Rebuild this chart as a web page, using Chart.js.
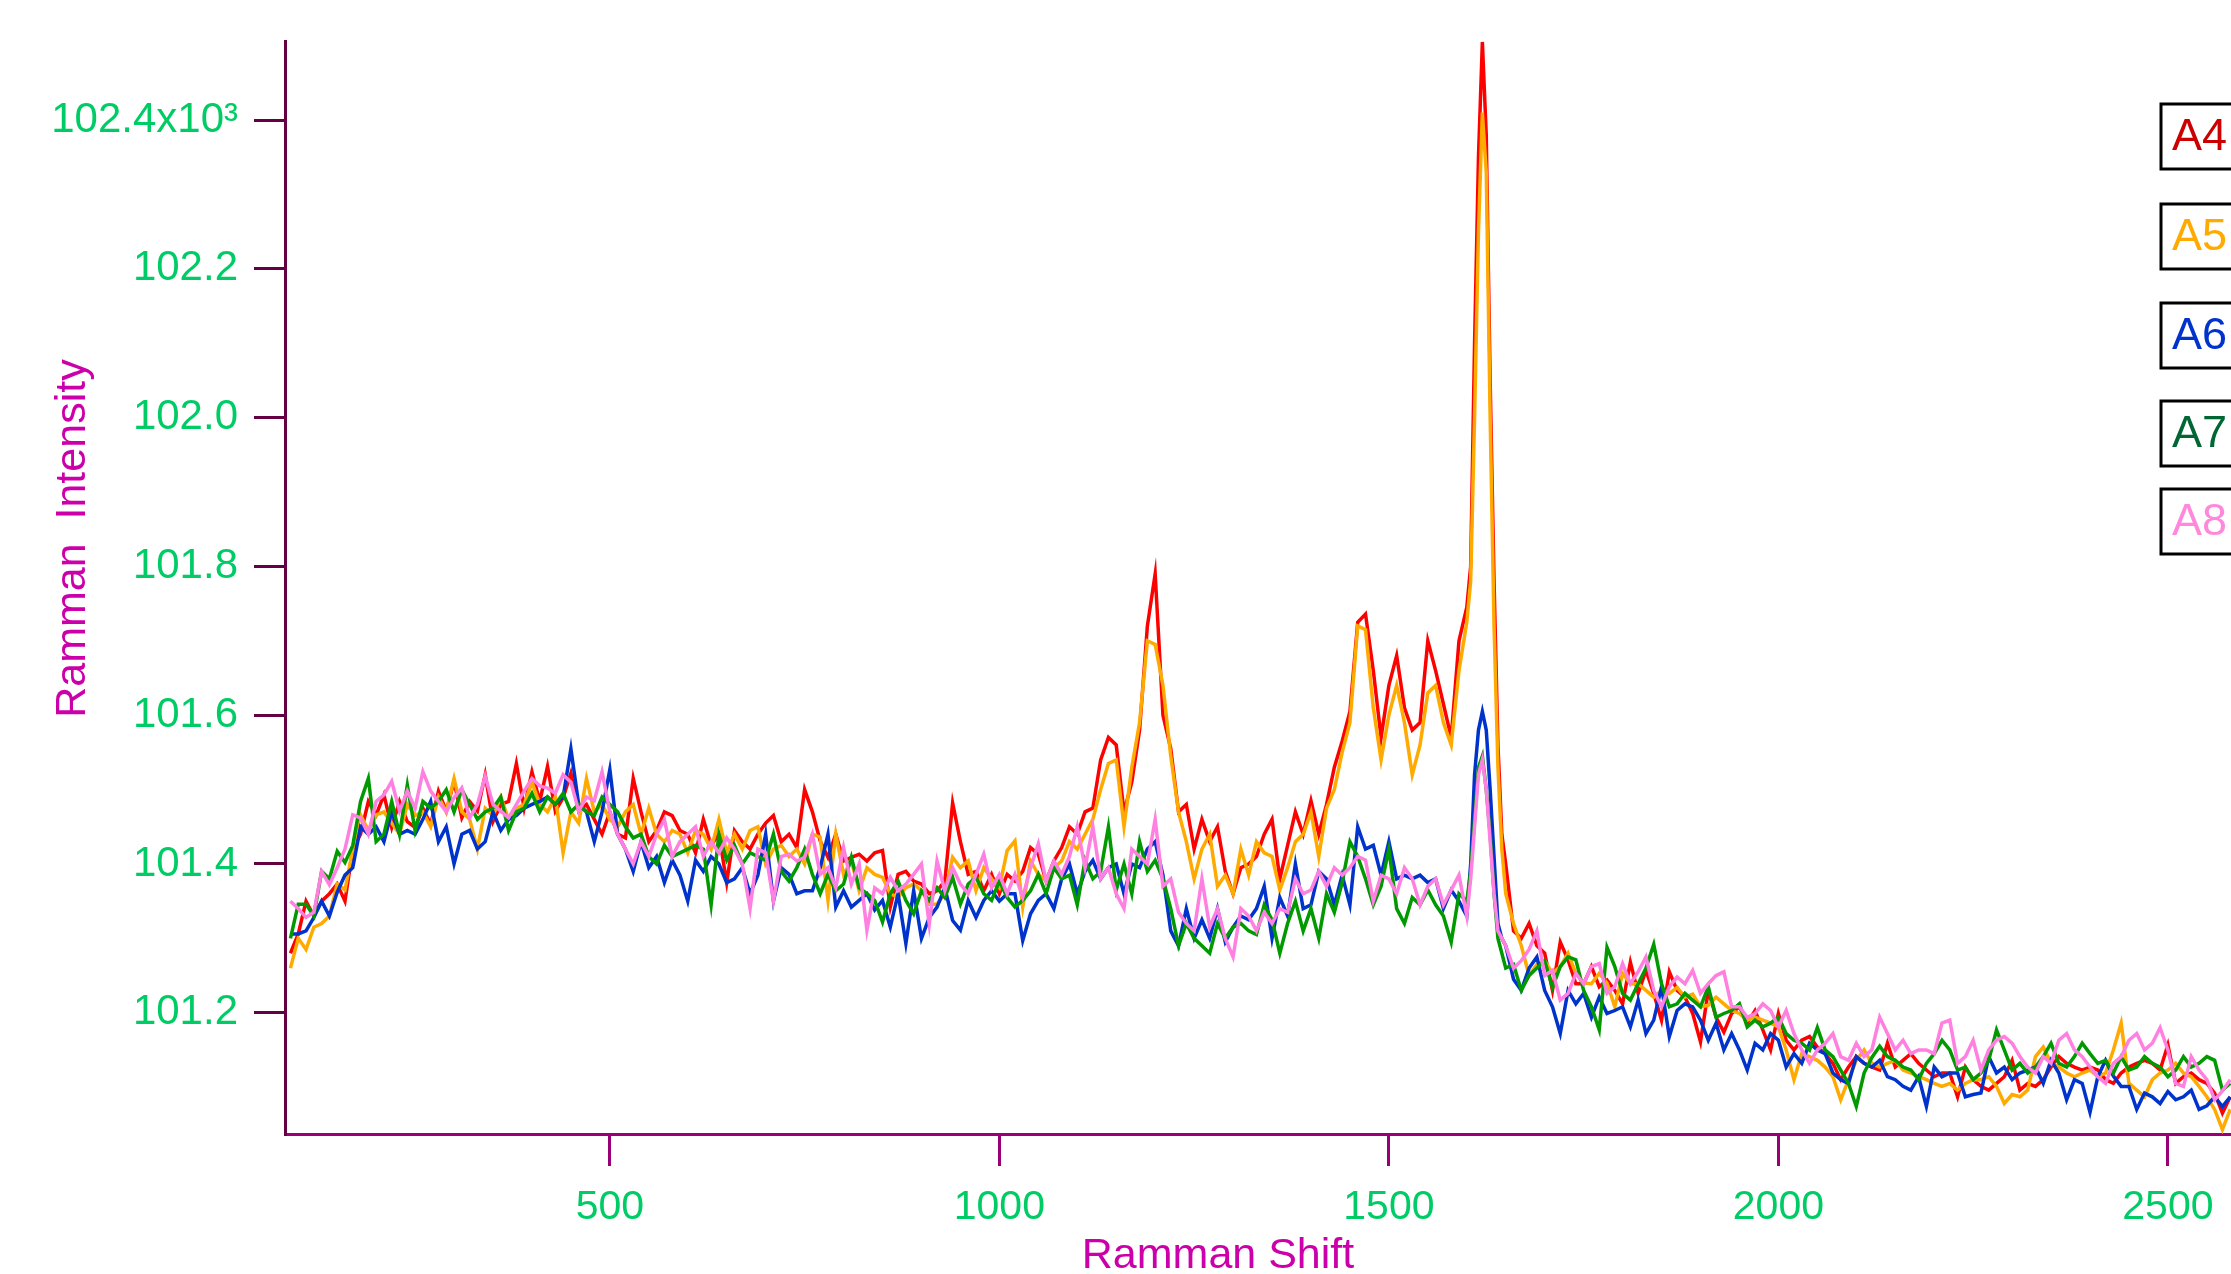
<!DOCTYPE html>
<html>
<head>
<meta charset="utf-8">
<title>Ramman spectra A4-A8</title>
<script src="https://cdn.jsdelivr.net/npm/chart.js@4.4.0/dist/chart.umd.min.js"></script>
<style>
  html, body { margin: 0; padding: 0; background: #ffffff; }
  canvas { display: block; }
</style>
</head>
<body>
<canvas id="chart" width="2231" height="1274"></canvas>
<script>
// Ramman shift (cm-1), shared by every spectrum
const shift = [
  90, 100, 110, 120, 130, 140, 150, 160, 170, 180, 190, 200,
  210, 220, 230, 240, 250, 260, 270, 280, 290, 300, 310, 320, 330, 340, 350,
  360, 370, 380, 390, 400, 410, 420, 430, 440, 450, 460, 470, 480, 490, 500,
  510, 520, 530, 540, 550, 560, 570, 580, 590, 600, 610, 620, 630, 640, 650,
  660, 670, 680, 690, 700, 710, 720,
  730, 740, 750, 760, 770, 780, 790, 800, 810, 820, 830, 840, 850, 860, 870,
  880, 890, 900, 910, 920, 930, 940, 950, 960, 970, 980, 990, 1000, 1010, 1020,
  1030, 1040, 1050, 1060, 1070, 1080,
  1090, 1100, 1110, 1120, 1130, 1140, 1150, 1160, 1170, 1180, 1190, 1200, 1210,
  1220, 1230, 1240, 1250, 1260, 1270, 1280, 1290, 1300, 1310, 1320, 1330, 1340,
  1350, 1360, 1370, 1380, 1390, 1400, 1410, 1420, 1430, 1440, 1450, 1460, 1470,
  1480, 1490, 1500, 1510, 1520, 1530, 1540, 1550, 1560, 1570, 1580, 1590, 1600,
  1605, 1610, 1615, 1620, 1625, 1630, 1635, 1640, 1645, 1650,
  1660, 1670, 1680, 1690, 1700,
  1710, 1720, 1730, 1740, 1750, 1760, 1770, 1780, 1790, 1800,
  1810, 1820, 1830, 1840, 1850, 1860, 1870, 1880, 1890, 1900,
  1910, 1920, 1930, 1940, 1950, 1960, 1970, 1980, 1990, 2000,
  2010, 2020, 2030, 2040, 2050, 2060, 2070, 2080, 2090, 2100,
  2110, 2120, 2130, 2140, 2150, 2160, 2170, 2180, 2190, 2200,
  2210, 2220, 2230, 2240, 2250, 2260, 2270, 2280, 2290, 2300,
  2310, 2320, 2330, 2340, 2350, 2360, 2370, 2380, 2390, 2400,
  2410, 2420, 2430, 2440, 2450, 2460, 2470, 2480, 2490, 2500,
  2510, 2520, 2530, 2540, 2550, 2560, 2570, 2580
]

const a4 = [
  101280, 101306, 101350, 101330, 101350, 101360, 101373, 101350, 101420, 101440, 101484, 101466,
  101493, 101449, 101484, 101457, 101449, 101475, 101453, 101498, 101471, 101511,
  101462, 101484, 101471, 101520, 101457, 101480, 101484, 101535, 101475, 101524,
  101484, 101531, 101471, 101489, 101522, 101471, 101480, 101460, 101440, 101470,
  101440, 101435, 101515, 101470, 101430, 101445, 101470, 101465, 101445, 101440,
  101415, 101460, 101425, 101440, 101375, 101445, 101430, 101420, 101440, 101455,
  101465, 101430,
  101440, 101422, 101500, 101470, 101431, 101409, 101440, 101404, 101409, 101413,
  101404, 101415, 101418, 101342, 101386, 101390, 101377, 101373, 101360, 101364,
  101377, 101482, 101430, 101386, 101390, 101364, 101386, 101360, 101386, 101377,
  101390, 101422, 101413, 101377, 101404, 101422,
  101450, 101440, 101470, 101475, 101540, 101570, 101560, 101470, 101510, 101580,
  101720, 101790, 101600, 101555, 101470, 101480, 101420, 101460, 101430, 101450,
  101390, 101360, 101395, 101400, 101410, 101440, 101460, 101380, 101425, 101470,
  101440, 101485, 101440, 101480, 101530, 101565, 101605, 101725, 101736, 101660,
  101570, 101640, 101680, 101610, 101580, 101590, 101700, 101660, 101615, 101570,
  101700, 101745,
  101800, 102100, 102350, 102505, 102380, 102050, 101780, 101560, 101440, 101400,
  101310, 101300, 101320, 101290, 101280,
  101230, 101295, 101271, 101239, 101239, 101262, 101235, 101244, 101230, 101212,
  101268, 101226, 101257, 101226, 101190, 101255, 101230, 101221, 101199, 101161,
  101230, 101194, 101174, 101199, 101208, 101186, 101203, 101177, 101150, 101199,
  101163, 101150, 101163, 101168, 101154, 101145, 101132, 101110, 101127, 101141,
  101132, 101127, 101123, 101159, 101127, 101136, 101145, 101132, 101123, 101114,
  101119, 101119, 101087, 101127, 101110, 101101, 101096, 101105, 101114, 101136,
  101096, 101105, 101101, 101110, 101127, 101141, 101132, 101127, 101123, 101127,
  101123, 101110, 101105, 101119, 101127, 101132, 101136, 101132, 101123, 101157,
  101105, 101114, 101119, 101110, 101105, 101092, 101065, 101087
]

const a5 = [
  101260, 101300, 101285, 101315, 101320, 101330, 101373, 101365, 101420, 101466, 101445, 101466,
  101470, 101455, 101440, 101480, 101465, 101470, 101450, 101490, 101470, 101515,
  101470, 101460, 101420, 101475, 101465, 101490, 101460, 101475, 101480, 101510,
  101480, 101470, 101490, 101415, 101470, 101455, 101515, 101470, 101480, 101460,
  101450, 101470, 101480, 101440, 101475, 101440, 101430, 101445, 101440, 101415,
  101445, 101440, 101420, 101460, 101415, 101440, 101420, 101445, 101450, 101400,
  101420, 101425,
  101410, 101420, 101400, 101440, 101436, 101351, 101440, 101386, 101404, 101364,
  101395, 101386, 101382, 101360, 101355, 101368, 101373, 101364, 101346, 101346,
  101360, 101409, 101395, 101404, 101364, 101395, 101380, 101368, 101418, 101431,
  101342, 101404, 101386, 101377, 101395, 101404,
  101430, 101420, 101440, 101460, 101500, 101535, 101540, 101450, 101530, 101590,
  101700, 101695, 101640, 101545, 101470, 101430, 101380, 101420, 101440, 101370,
  101385, 101360, 101420, 101385, 101430, 101415, 101410, 101365, 101395, 101430,
  101440, 101470, 101410, 101475, 101500, 101550, 101590, 101720, 101715, 101610,
  101540, 101600, 101640, 101590, 101520, 101560, 101630, 101640, 101590, 101560,
  101660, 101725,
  101780, 102000, 102250, 102410, 102330, 102000, 101720, 101530, 101420, 101360,
  101320, 101290, 101250, 101265, 101270,
  101253, 101262, 101280, 101253, 101240, 101239, 101253, 101240, 101208, 101253,
  101239, 101239, 101230, 101221, 101230, 101226, 101234, 101221, 101225, 101208,
  101210, 101221, 101212, 101203, 101199, 101190, 101194, 101190, 101186, 101181,
  101150, 101110, 101145, 101141, 101136, 101127, 101114, 101083, 101110, 101136,
  101150, 101132, 101127, 101132, 101136, 101123, 101119, 101114, 101110, 101105,
  101101, 101105, 101096, 101105, 101110, 101110, 101114, 101101, 101078, 101090,
  101087, 101096, 101141, 101154, 101132, 101127, 101119, 101114, 101119, 101123,
  101114, 101119, 101150, 101186, 101105, 101096, 101087, 101110, 101119, 101123,
  101132, 101119, 101114, 101101, 101087, 101070, 101043, 101070
]

const a6 = [
  101306, 101306, 101310, 101328, 101350, 101330, 101362, 101385, 101395, 101450, 101440, 101450,
  101430, 101470, 101440, 101445, 101440, 101460, 101484, 101430, 101450, 101400,
  101440, 101445, 101420, 101430, 101470, 101445, 101460, 101465, 101475, 101480,
  101484, 101490, 101480, 101490, 101555, 101480, 101470, 101430, 101470, 101527,
  101440, 101420, 101390, 101430, 101395, 101410, 101375, 101405, 101385, 101350,
  101405, 101390, 101410, 101400, 101375, 101380, 101395, 101360, 101385, 101440,
  101350, 101395,
  101386, 101360, 101364, 101364, 101395, 101440, 101342, 101364, 101342, 101351,
  101360, 101338, 101351, 101315, 101360, 101293, 101364, 101300, 101328, 101342,
  101368, 101324, 101311, 101351, 101328, 101351, 101364, 101350, 101360, 101360,
  101297, 101333, 101351, 101360, 101340, 101380,
  101400, 101360, 101390, 101405, 101380, 101395, 101400, 101360, 101400, 101395,
  101420, 101430, 101385, 101310, 101290, 101340, 101300, 101325, 101300, 101340,
  101295, 101315, 101330, 101325, 101340, 101370, 101300, 101355, 101330, 101400,
  101340, 101345, 101390, 101380, 101345, 101385, 101345, 101450, 101420, 101425,
  101385, 101430, 101380, 101385, 101380, 101385, 101375, 101380, 101340, 101365,
  101350, 101330,
  101400, 101520, 101580, 101605, 101580, 101500, 101410, 101320, 101300, 101290,
  101245, 101230, 101260, 101275, 101230,
  101208, 101172, 101230, 101212, 101226, 101194, 101221, 101199, 101203, 101208,
  101181, 101217, 101172, 101190, 101235, 101168, 101203, 101212, 101208, 101190,
  101163, 101186, 101150, 101172, 101150, 101123, 101159, 101150, 101172, 101163,
  101127, 101145, 101132, 101159, 101150, 101145, 101119, 101110, 101105, 101141,
  101132, 101127, 101136, 101114, 101110, 101101, 101096, 101114, 101074, 101127,
  101114, 101119, 101119, 101087, 101090, 101092, 101141, 101119, 101127, 101110,
  101119, 101123, 101127, 101105, 101136, 101119, 101083, 101110, 101105, 101066,
  101114, 101136, 101115, 101101, 101101, 101070, 101092, 101087, 101078, 101094,
  101083, 101087, 101096, 101070, 101075, 101087, 101074, 101087
]

const a7 = [
  101300, 101346, 101346, 101330, 101390, 101380, 101417, 101402, 101425, 101484, 101515, 101430,
  101440, 101484, 101440, 101506, 101445, 101484, 101475, 101484, 101500, 101470,
  101500, 101480, 101460, 101470, 101475, 101490, 101445, 101470, 101475, 101495,
  101470, 101490, 101480, 101495, 101470, 101480, 101470, 101465, 101490, 101480,
  101470, 101450, 101435, 101440, 101410, 101400, 101425, 101410, 101415, 101420,
  101425, 101420, 101345, 101440, 101405, 101425, 101400, 101415, 101410, 101405,
  101440, 101390,
  101377, 101395, 101420, 101386, 101360, 101386, 101364, 101373, 101409, 101368,
  101360, 101351, 101322, 101360, 101377, 101351, 101333, 101364, 101351, 101368,
  101355, 101382, 101346, 101373, 101382, 101360, 101351, 101377, 101355, 101342,
  101351, 101364, 101386, 101360, 101395, 101380,
  101385, 101345, 101405, 101380, 101390, 101450, 101365, 101400, 101360, 101430,
  101390, 101405, 101380, 101340, 101290, 101320, 101300, 101290, 101280, 101320,
  101300, 101315, 101320, 101310, 101305, 101345, 101325, 101280, 101320, 101350,
  101310, 101340, 101300, 101360, 101335, 101375, 101430, 101410, 101380, 101345,
  101370, 101420, 101340, 101320, 101355, 101345, 101365, 101345, 101330, 101295,
  101360, 101350,
  101390, 101460, 101530, 101545, 101500, 101440, 101360, 101300, 101280, 101260,
  101265, 101230, 101250, 101260, 101270,
  101234, 101262, 101275, 101271, 101230, 101208, 101177, 101288, 101262, 101226,
  101217, 101239, 101260, 101292, 101239, 101208, 101212, 101226, 101217, 101208,
  101235, 101194, 101199, 101203, 101212, 101181, 101190, 101181, 101186, 101194,
  101172, 101163, 101159, 101150, 101180, 101150, 101141, 101123, 101105, 101074,
  101119, 101140, 101155, 101141, 101136, 101127, 101123, 101110, 101132, 101145,
  101163, 101150, 101123, 101127, 101110, 101119, 101136, 101177, 101150, 101123,
  101132, 101119, 101127, 101141, 101159, 101132, 101127, 101141, 101159, 101145,
  101132, 101136, 101119, 101141, 101123, 101127, 101141, 101132, 101127, 101114,
  101123, 101141, 101127, 101132, 101141, 101136, 101096, 101105
]

const a8 = [
  101350, 101340, 101328, 101335, 101390, 101372, 101395, 101420, 101466, 101462, 101440, 101484,
  101493, 101511, 101471, 101498, 101475, 101524, 101498, 101484, 101470, 101489,
  101502, 101462, 101480, 101518, 101480, 101471, 101462, 101480, 101498, 101515,
  101505, 101502, 101495, 101520, 101510, 101471, 101490, 101485, 101524, 101470,
  101440, 101420, 101400, 101430, 101410, 101440, 101460, 101410, 101430, 101440,
  101450, 101410, 101430, 101415, 101435, 101420, 101400, 101340, 101420, 101415,
  101350, 101410,
  101413, 101404, 101409, 101440, 101386, 101395, 101368, 101422, 101373, 101400,
  101311, 101368, 101360, 101382, 101364, 101373, 101386, 101400, 101319, 101404,
  101364, 101395, 101373, 101360, 101386, 101413, 101368, 101386, 101360, 101386,
  101355, 101395, 101427, 101377, 101404, 101386,
  101410, 101450, 101395, 101450, 101380, 101395, 101360, 101340, 101420, 101410,
  101400, 101460, 101370, 101380, 101335, 101320, 101310, 101380, 101315, 101340,
  101300, 101275, 101340, 101330, 101310, 101335, 101320, 101340, 101335, 101380,
  101360, 101365, 101390, 101370, 101395, 101385, 101395, 101410, 101405, 101350,
  101385, 101380, 101360, 101395, 101380, 101345, 101370, 101380, 101345, 101365,
  101385, 101330,
  101380, 101450, 101520, 101540, 101500, 101430, 101360, 101310, 101300, 101290,
  101260, 101270, 101285, 101310, 101250,
  101257, 101217, 101226, 101253, 101239, 101262, 101266, 101226, 101235, 101266,
  101239, 101255, 101275, 101230, 101208, 101235, 101248, 101239, 101257, 101226,
  101239, 101250, 101255, 101208, 101208, 101194, 101199, 101212, 101203, 101181,
  101203, 101172, 101150, 101132, 101150, 101159, 101172, 101141, 101136, 101159,
  101141, 101150, 101194, 101172, 101150, 101163, 101145, 101150, 101150, 101145,
  101186, 101190, 101132, 101141, 101163, 101123, 101150, 101163, 101168, 101159,
  101141, 101127, 101119, 101141, 101132, 101163, 101172, 101150, 101141, 101127,
  101114, 101105, 101132, 101141, 101163, 101172, 101150, 101159, 101180, 101150,
  101105, 101101, 101141, 101123, 101110, 101083, 101095, 101110
]

const seriesNames = ['A4', 'A5', 'A6', 'A7', 'A8']
const seriesValues = [a4, a5, a6, a7, a8]
const xTicks = [500, 1000, 1500, 2000, 2500]
const yTicks = [101200, 101400, 101600, 101800, 102000, 102200, 102400]

// styles
const fontFamily = '"Liberation Sans", Arial, sans-serif'
const lineColors = ['#ff0000', '#ffaa00', '#0033cc', '#009900', '#ff80e0']
const legendColors = ['#cc0000', '#ffaa00', '#0033cc', '#006633', '#ff88dd']
const legendTops = [104, 204, 303, 401, 489]
const tickColor = '#00cc66'
const titleColor = '#cc00aa'

seriesValues.forEach((vals, i) => {
	if (vals.length !== shift.length) {
		throw new Error(`${seriesNames[i]} has ${vals.length} values, expected ${shift.length}`)
	}
})

const datasets = seriesValues.map((vals, i) => ({
	label: seriesNames[i],
	data: shift.map((x, j) => ({ x, y: vals[j] })),
	borderColor: lineColors[i],
	backgroundColor: lineColors[i],
	borderWidth: 3.5,
	pointRadius: 0,
	tension: 0,
	fill: false,
	// A8 ends up on top, A4 at the bottom
	order: seriesValues.length - i
}))

// axis titles and the boxed series labels on the right
const decorPlugin = {
	id: 'decor',
	afterDraw(chart) {
		const { ctx, chartArea } = chart
		ctx.save()

		ctx.fillStyle = titleColor
		ctx.font = `43px ${fontFamily}`
		ctx.textAlign = 'center'
		ctx.textBaseline = 'alphabetic'
		ctx.fillText('Ramman Shift', (chartArea.left + chartArea.right) / 2 - 40, chart.height - 6)

		ctx.save()
		ctx.translate(85, (chartArea.top + chartArea.bottom) / 2 - 49)
		ctx.rotate(-Math.PI / 2)
		ctx.fillText('Ramman  Intensity', 0, 0)
		ctx.restore()

		const boxLeft = chart.width - 70
		seriesNames.forEach((name, i) => {
			const top = legendTops[i]
			ctx.fillStyle = '#ffffff'
			ctx.fillRect(boxLeft, top, 120, 65)
			ctx.lineWidth = 3
			ctx.strokeStyle = '#000000'
			ctx.strokeRect(boxLeft, top, 120, 65)
			ctx.fillStyle = legendColors[i]
			ctx.font = `45px ${fontFamily}`
			ctx.textAlign = 'left'
			ctx.textBaseline = 'middle'
			ctx.fillText(name, boxLeft + 11, top + 34)
		})

		ctx.restore()
	}
}

new Chart(document.getElementById('chart'), {
	type: 'line',
	data: { datasets },
	options: {
		responsive: false,
		maintainAspectRatio: false,
		animation: false,
		devicePixelRatio: 1,
		layout: { padding: { top: 37, right: 0, bottom: 0, left: 0 } },
		plugins: {
			legend: { display: false },
			tooltip: { enabled: false },
			title: { display: false }
		},
		scales: {
			x: {
				type: 'linear',
				min: 83,
				max: 2581,
				afterBuildTicks: (scale) => {
					scale.ticks = xTicks.map((value) => ({ value }))
				},
				afterFit: (scale) => {
					scale.height = 140
				},
				grid: {
					drawOnChartArea: false,
					drawTicks: true,
					tickLength: 32,
					color: '#990077',
					lineWidth: 3
				},
				border: { display: true, color: '#990077', width: 3 },
				ticks: {
					color: tickColor,
					font: { family: fontFamily, size: 41 },
					padding: 17,
					maxRotation: 0,
					autoSkip: false,
					callback: (value) => String(value)
				}
			},
			y: {
				type: 'linear',
				min: 101037,
				max: 102506,
				afterBuildTicks: (scale) => {
					scale.ticks = yTicks.map((value) => ({ value }))
				},
				afterFit: (scale) => {
					scale.width = 285
				},
				grid: {
					drawOnChartArea: false,
					drawTicks: true,
					tickLength: 31,
					color: '#660044',
					lineWidth: 3
				},
				border: { display: true, color: '#660044', width: 3 },
				ticks: {
					color: tickColor,
					font: { family: fontFamily, size: 42 },
					padding: 16,
					autoSkip: false,
					callback: (value) =>
						value === 102400 ? '102.4x10³' : (value / 1000).toFixed(1)
				}
			}
		}
	},
	plugins: [decorPlugin]
})
</script>
</body>
</html>
